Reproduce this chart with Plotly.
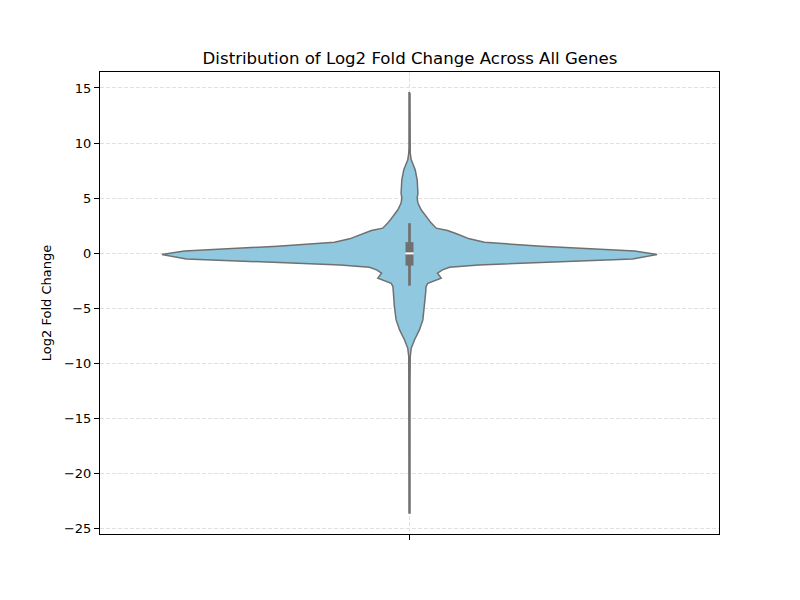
import plotly.graph_objects as go

# violin outline: y level and relative density (1 = widest)
y_levels = [14.57, 12.0, 9.6, 9.09, 8.48, 7.57, 6.66, 5.45, 5.0, 4.55, 3.94,
            3.33, 2.73, 2.27, 2.06, 1.76, 1.3, 0.99, 0.63, 0.2, -0.13,
            -0.52, -0.88, -1.07, -1.28, -1.52, -1.82, -2.27, -2.73, -3.03,
            -3.64, -4.85, -6.06, -6.97, -7.88, -8.64, -9.4, -12.0, -23.6]
density = [0.002, 0.002, 0.002, 0.003, 0.007, 0.023, 0.031, 0.034, 0.031, 0.034,
           0.047, 0.067, 0.088, 0.108, 0.154, 0.19, 0.242, 0.303, 0.533, 0.909,
           1.0, 0.901, 0.501, 0.279, 0.162, 0.133, 0.113, 0.128, 0.074, 0.067,
           0.065, 0.061, 0.054, 0.040, 0.020, 0.007, 0.003, 0.002, 0.002]

# inner box stats
whisker_low, q1, median, q3, whisker_high = -2.95, -1.13, -0.02, 1.0, 2.72

half = [d * 0.4 for d in density]
xs = half + [-h for h in half[::-1]] + [half[0]]
ys = y_levels + y_levels[::-1] + [y_levels[0]]

line_grey = "#707070"

fig = go.Figure()
fig.add_trace(go.Scatter(x=xs, y=ys, fill="toself", fillcolor="#8fc8df",
                         mode="lines", line=dict(color=line_grey, width=1.5),
                         hoverinfo="skip"))
fig.add_trace(go.Scatter(x=[0, 0], y=[whisker_low, whisker_high], mode="lines",
                         line=dict(color=line_grey, width=2.7)))
fig.add_trace(go.Scatter(x=[0, 0], y=[q1, q3], mode="lines",
                         line=dict(color=line_grey, width=8)))
fig.add_trace(go.Scatter(x=[0], y=[median], mode="markers",
                         marker=dict(symbol="line-ew", size=6,
                                     line=dict(color="white", width=2))))

axis_common = dict(showline=True, linecolor="black", linewidth=1, mirror=True,
                   ticks="outside", ticklen=5, tickcolor="black",
                   showgrid=True, gridcolor="#e0e0e0", griddash="4px,2px",
                   gridwidth=1, zeroline=False,
                   tickfont=dict(family="DejaVu Sans", size=13, color="black"))

# the page body has an 8px margin, so the margins here are 8px smaller
fig.update_layout(
    width=800, height=600,
    margin=dict(l=92, r=89, t=64, b=74),
    plot_bgcolor="white", paper_bgcolor="white",
    showlegend=False,
    font=dict(family="DejaVu Sans", color="black"),
    title=dict(text="Distribution of Log2 Fold Change Across All Genes",
               x=0.5025, xanchor="center", y=1 - 50 / 600, yanchor="middle",
               yref="container", font=dict(size=16.6, color="black")),
    xaxis=dict(range=[-0.5, 0.5], tickvals=[0], ticktext=[""], **axis_common),
    yaxis=dict(range=[-25.5, 16.45], tickvals=[15, 10, 5, 0, -5, -10, -15, -20, -25],
               title=dict(text="Log2 Fold Change", font=dict(size=13), standoff=9),
               **axis_common),
)

fig.write_html("out.html")
